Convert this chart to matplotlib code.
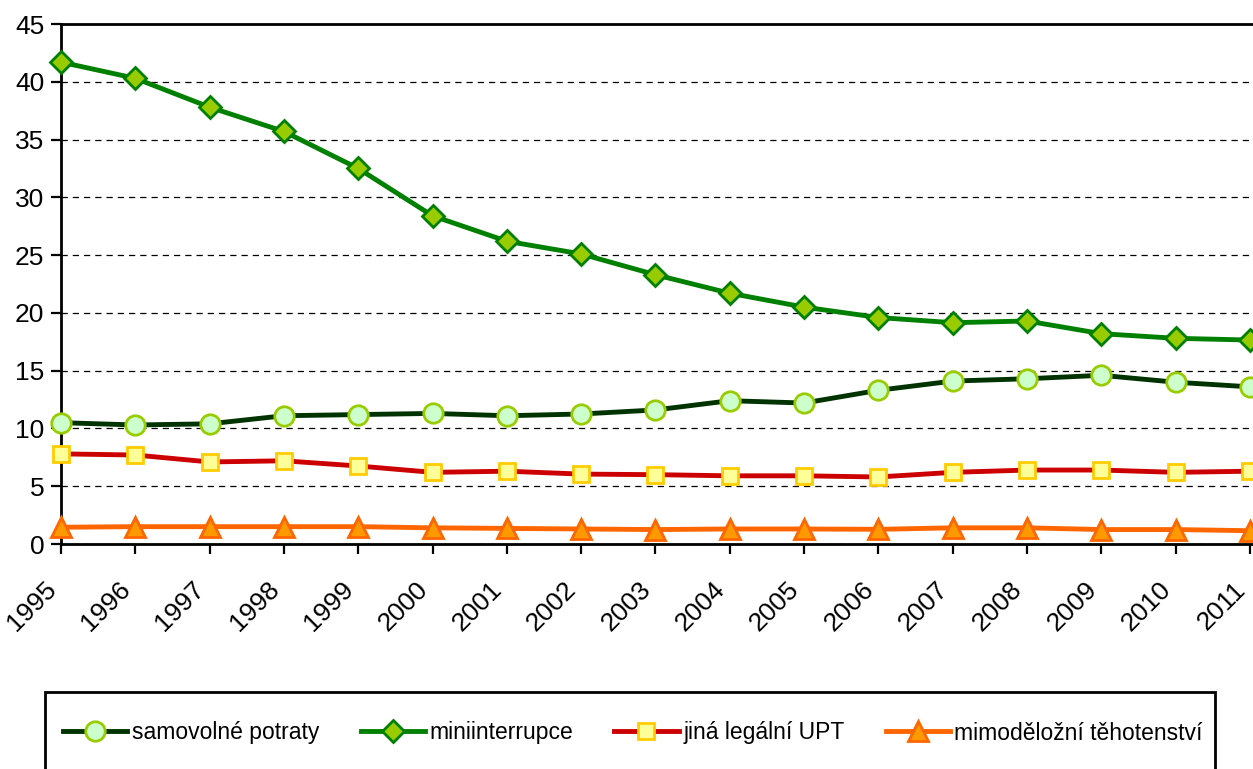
import matplotlib
matplotlib.use("Agg")
import matplotlib.pyplot as plt
from matplotlib.patches import Rectangle

plt.rcParams["font.family"] = ["Liberation Sans", "DejaVu Sans"]

# Data
years = list(range(1995, 2012))
samovolne = [10.5, 10.3, 10.4, 11.1, 11.2, 11.3, 11.1, 11.25, 11.6, 12.4, 12.2,
             13.3, 14.1, 14.3, 14.6, 14.0, 13.6]
mini = [41.7, 40.3, 37.8, 35.7, 32.5, 28.4, 26.2, 25.1, 23.3, 21.7, 20.5,
        19.6, 19.15, 19.3, 18.2, 17.8, 17.65]
jina_upt = [7.8, 7.7, 7.1, 7.2, 6.75, 6.2, 6.3, 6.05, 6.0, 5.9, 5.9,
            5.8, 6.2, 6.4, 6.4, 6.2, 6.3]
mimodelozni = [1.45, 1.5, 1.5, 1.5, 1.5, 1.4, 1.35, 1.3, 1.25, 1.3, 1.3,
               1.27, 1.4, 1.4, 1.25, 1.25, 1.15]

labels = ["samovolné potraty", "miniinterrupce", "jiná legální UPT",
          "mimoděložní těhotenství"]

W, H = 1253, 769
fig = plt.figure(figsize=(W / 100, H / 100), dpi=100)

# plot area runs past the right edge of the picture, like the original
ax = fig.add_axes([61 / W, 225 / H, (1300 - 61) / W, 520 / H])

series = [
    (samovolne, dict(color="#003300", marker="o", markersize=14,
                     markerfacecolor="#CCFFCC", markeredgecolor="#99CC00")),
    (mini, dict(color="#008000", marker="D", markersize=11.5,
                markerfacecolor="#99CC00", markeredgecolor="#008000")),
    (jina_upt, dict(color="#CC0000", marker="s", markersize=12,
                    markerfacecolor="#FFFF99", markeredgecolor="#FFCC00")),
    (mimodelozni, dict(color="#FF6600", marker="^", markersize=14,
                       markerfacecolor="#FF9900", markeredgecolor="#FF6600")),
]

handles = []
for (vals, style), lab in zip(series, labels):
    h, = ax.plot(years, vals, lw=3.5, markeredgewidth=2, label=lab,
                 clip_on=False, zorder=3, **style)
    handles.append(h)

ax.set_ylim(0, 45)
ax.set_xlim(1995, 1995 + (1300 - 61) / 74.31)
ax.set_yticks(range(0, 50, 5))
ax.set_xticks(years)
ax.set_xticklabels([str(y) for y in years], rotation=45, ha="right", fontsize=19)
ax.tick_params(axis="y", labelsize=19, length=7, width=1.6, direction="out", pad=5)
ax.tick_params(axis="x", length=7, width=1.6, direction="out", pad=17)

ax.grid(axis="y", linestyle=(0, (5, 4)), color="black", lw=0.9)
ax.set_axisbelow(True)
for side in ["left", "bottom", "top"]:
    ax.spines[side].set_linewidth(2)
ax.spines["right"].set_visible(False)

# legend box, cut off at the bottom edge as in the reference
fig.add_artist(Rectangle((45 / W, -0.05), (1215 - 45) / W, 0.05 + (H - 692) / H,
                         transform=fig.transFigure, fill=False, lw=2,
                         edgecolor="black", clip_on=False))
fig.legend(handles=handles, loc="center", bbox_to_anchor=(633 / W, 1 - 733 / H),
           ncol=4, frameon=False, fontsize=16.5, handlelength=2.8,
           handletextpad=0.2, columnspacing=1.8)

fig.savefig("out.png", dpi=100)
